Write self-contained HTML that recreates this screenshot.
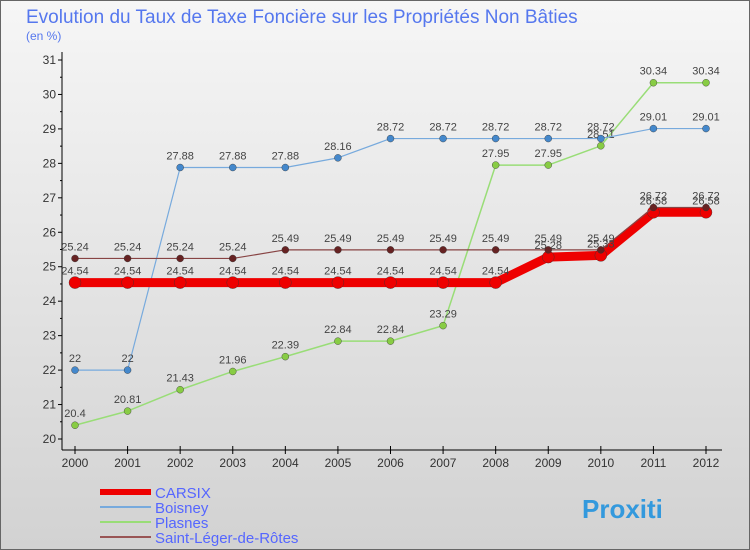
<!DOCTYPE html>
<html><head><meta charset="utf-8"><style>
body{margin:0;width:750px;height:550px;overflow:hidden;font-family:"Liberation Sans",sans-serif}
#wrap{position:absolute;left:0;top:0;width:748px;height:548px;border:1px solid #666;background:linear-gradient(#f6f6f6,#d2d2d2)}
</style></head><body>
<div id="wrap">
<svg id="chart" width="750" height="550" style="position:absolute;left:-1px;top:-1px">
<text x="26" y="23" font-size="19" fill="#5577ee">Evolution du Taux de Taxe Foncière sur les Propriétés Non Bâties</text>
<text x="26" y="40" font-size="12" fill="#5577ee">(en %)</text>
<g id="axes"></g><g id="series"></g><g id="legend"></g>
</svg>
</div>
<script>
const years=["2000","2001","2002","2003","2004","2005","2006","2007","2008","2009","2010","2011","2012"];
const carsix=[24.54,24.54,24.54,24.54,24.54,24.54,24.54,24.54,24.54,25.28,25.33,26.58,26.58];
const boisney=[22,22,27.88,27.88,27.88,28.16,28.72,28.72,28.72,28.72,28.72,29.01,29.01];
const plasnes=[20.4,20.81,21.43,21.96,22.39,22.84,22.84,23.29,27.95,27.95,28.51,30.34,30.34];
const stleger=[25.24,25.24,25.24,25.24,25.49,25.49,25.49,25.49,25.49,25.49,25.49,26.72,26.72];
const yTicks=[20,21,22,23,24,25,26,27,28,29,30,31];
const names=["CARSIX","Boisney","Plasnes","Saint-Léger-de-Rôtes"];
const NS="http://www.w3.org/2000/svg";
const x=i=>75+i*(706-75)/12;
const y=v=>439-(v-20)*(439-60)/11;
function mk(t,a,p){const e=document.createElementNS(NS,t);for(const k in a)e.setAttribute(k,a[k]);p.appendChild(e);return e;}
const ax=document.getElementById('axes');
let l=mk('line',{x1:62,y1:52,x2:62,y2:450,stroke:'#000'},ax);


l=mk('line',{x1:62,y1:450,x2:722,y2:450,stroke:'#000'},ax);


yTicks.forEach(v=>{
 mk('line',{x1:58,y1:y(v),x2:62,y2:y(v),stroke:'#000'},ax);
 if(v<31)mk('line',{x1:60,y1:y(v+0.5),x2:62,y2:y(v+0.5),stroke:'#000'},ax);
 const t=mk('text',{x:56,y:y(v)+4,'font-size':12,fill:'#333','text-anchor':'end'},ax);t.textContent=v;
 
 
});
years.forEach((yr,i)=>{
 mk('line',{x1:x(i),y1:446,x2:x(i),y2:454,stroke:'#000'},ax);
 const t=mk('text',{x:x(i),y:467,'font-size':12,fill:'#333','text-anchor':'middle'},ax);t.textContent=yr;
 
 
});
const sg=document.getElementById('series');
function draw(vals,color,w,r,dot,nm){
 const g=mk('g',{},sg);
 
 
 mk('polyline',{points:vals.map((v,i)=>x(i)+','+y(v)).join(' '),fill:'none',stroke:color,'stroke-width':w,'stroke-linejoin':'round'},g);
 vals.forEach((v,i)=>{
  const c=mk('circle',{cx:x(i),cy:y(v),r:r,fill:dot,stroke:'#333','stroke-width':0.4},g);
  
  
  const t=mk('text',{x:x(i),y:y(v)-8,'font-size':11,fill:'#444','text-anchor':'middle'},g);t.textContent=v;
  
  
 });
}
draw(plasnes,'#99dd77',1.5,3.5,'#88cc44','series-plasnes');
draw(boisney,'#77aadd',1.2,3.5,'#4488cc','series-boisney');
draw(carsix,'#ee0000',9,6,'#ee0000','series-carsix');
draw(stleger,'#884444',1.2,3.5,'#662222','series-saint-leger');
const lg=document.getElementById('legend');
const cols=['#ee0000','#77aadd','#99dd77','#995555'],ws=[6,2,2,2];
names.forEach((n,i)=>{
 const yy=492+i*15;
 const g=mk('g',{},lg);
 
 
 mk('line',{x1:100,y1:yy,x2:151,y2:yy,stroke:cols[i],'stroke-width':ws[i]},g);
 const t=mk('text',{x:155,y:yy+6,'font-size':15,fill:'#5566ff'},g);t.textContent=n;
});
const p=mk('text',{x:582,y:518,'font-size':26,'font-weight':'bold',fill:'#3399dd'},lg);
p.textContent='Proxiti';


</script>
</body></html>
